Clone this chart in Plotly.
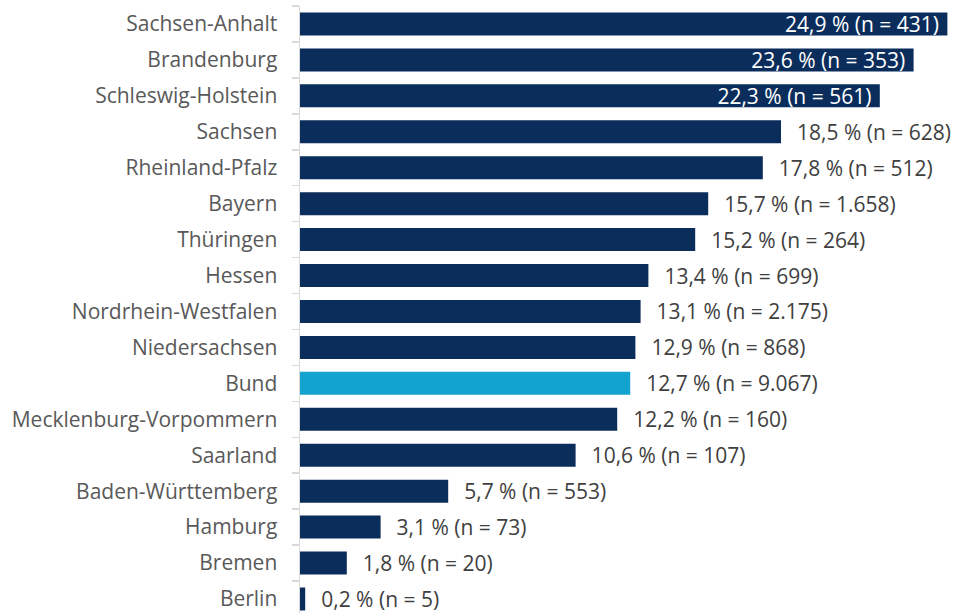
import plotly.graph_objects as go

laender = ["Sachsen-Anhalt", "Brandenburg", "Schleswig-Holstein", "Sachsen", "Rheinland-Pfalz",
           "Bayern", "Thüringen", "Hessen", "Nordrhein-Westfalen", "Niedersachsen", "Bund",
           "Mecklenburg-Vorpommern", "Saarland", "Baden-Württemberg", "Hamburg", "Bremen", "Berlin"]
anteil = [24.9, 23.6, 22.3, 18.5, 17.8, 15.7, 15.2, 13.4, 13.1, 12.9, 12.7, 12.2, 10.6, 5.7, 3.1, 1.8, 0.2]
n_werte = ["431", "353", "561", "628", "512", "1.658", "264", "699", "2.175", "868", "9.067",
           "160", "107", "553", "73", "20", "5"]

navy = "#0b2d5c"
hell = "#12a3cf"
FONT = "Open Sans"
FS = 21
colors = [hell if l == "Bund" else navy for l in laender]
labels = [f"{str(a).replace('.', ',')} % (n = {n})" for a, n in zip(anteil, n_werte)]
inside = [a > 20 for a in anteil]
positions = ["inside" if i else "outside" for i in inside]
labels = [t + "\u00a0" if i else "\u00a0\u00a0\u200a" + t for t, i in zip(labels, inside)]
text_colors = ["#ffffff" if i else "#404040" for i in inside]

fig = go.Figure(go.Bar(
    x=anteil, y=laender, orientation="h",
    marker=dict(color=colors, line=dict(width=0)),
    width=0.64,
    text=labels, textposition=positions, insidetextanchor="end",
    textfont=dict(color=text_colors, size=FS, family=FONT),
    constraintext="none", cliponaxis=False,
    hoverinfo="skip",
))

fig.update_layout(
    width=955, height=613,
    margin=dict(l=300, r=0, t=6, b=0, autoexpand=False),
    plot_bgcolor="white", paper_bgcolor="white",
    font=dict(family=FONT, size=FS, color="#595959"),
    showlegend=False,
    xaxis=dict(range=[0, 655 / 26], visible=False, fixedrange=True, automargin=False),
    yaxis=dict(categoryorder="array", categoryarray=laender, automargin=False,
               range=[16.39, -0.5], showline=True, linecolor="#d9d9d9", linewidth=1.5,
               ticks="outside", tickson="boundaries", ticklen=7, tickcolor="#d9d9d9",
               tickwidth=1.5, ticklabelstandoff=17, showgrid=False, fixedrange=True,
               tickfont=dict(color="#595959", size=FS, family=FONT)),
)

fig.write_html("out.html", config={"displayModeBar": False, "staticPlot": True},
               post_script="document.body.style.margin='0';document.body.style.overflow='hidden';")
